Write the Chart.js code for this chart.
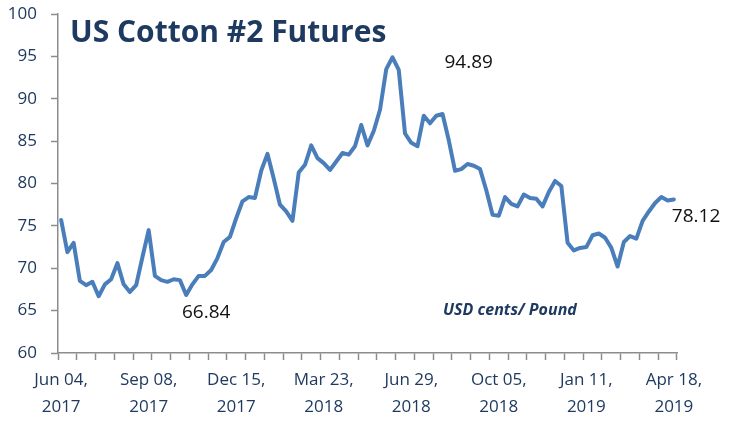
<!DOCTYPE html>
<html>
<head>
<meta charset="utf-8">
<title>US Cotton #2 Futures</title>
<script src="https://cdn.jsdelivr.net/npm/chart.js@4"></script>
<style>
  html, body { margin: 0; padding: 0; background: #fff; }
  #wrap { width: 734px; height: 423px; }
</style>
</head>
<body>
<div id="wrap"><canvas id="cotton" width="734" height="423"></canvas></div>
<script>
// === DATA ===
// weekly closes, USD cents / pound, Jun 2017 -> Apr 2019
const prices = [
  75.7, 71.9, 73.0, 68.5, 68.0, 68.4, 66.7, 68.1, 68.7, 70.6,
  68.1, 67.2, 68.0, 71.3, 74.5, 69.1, 68.6, 68.4, 68.7, 68.6,
  66.84, 68.1, 69.1, 69.1, 69.8, 71.2, 73.1, 73.7, 75.9, 77.9,
  78.4, 78.3, 81.5, 83.5, 80.6, 77.5, 76.7, 75.6, 81.3, 82.2,
  84.5, 83.0, 82.4, 81.6, 82.6, 83.6, 83.4, 84.4, 86.9, 84.5,
  86.2, 88.7, 93.5, 94.89, 93.4, 85.9, 84.8, 84.4, 88.0, 87.1,
  88.0, 88.2, 85.1, 81.5, 81.7, 82.3, 82.1, 81.7, 79.2, 76.3,
  76.2, 78.4, 77.6, 77.3, 78.7, 78.3, 78.2, 77.3, 79.0, 80.3,
  79.7, 73.0, 72.1, 72.4, 72.5, 73.9, 74.1, 73.6, 72.4, 70.2,
  73.1, 73.8, 73.5, 75.6, 76.7, 77.7, 78.4, 78.0, 78.12
];
const weeks = prices.map((_, i) => i);
const tickLabels = [
  ["Jun 04,", "2017"], ["Sep 08,", "2017"], ["Dec 15,", "2017"], ["Mar 23,", "2018"],
  ["Jun 29,", "2018"], ["Oct 05,", "2018"], ["Jan 11,", "2019"], ["Apr 18,", "2019"]
];
const yTicks = [60, 65, 70, 75, 80, 85, 90, 95, 100];
const labelEvery = 14;
const tickEvery = 3;
// points carrying a value label: high, low, last
const highIdx = 53;
const lowIdx = 20;
const lastIdx = prices.length - 1;

const NAVY = "#1f3a60";
const AXIS = "#8c8c8c";
const LINE = "#4a7ebb";

// === ANNOTATIONS (title, high / low / last values, unit) ===
const notesPlugin = {
  id: "notes",
  afterDatasetsDraw(chart) {
    const { ctx, chartArea, scales: { x, y } } = chart;
    ctx.save();

    ctx.fillStyle = NAVY;
    ctx.font = "bold 30px 'Open Sans'";
    ctx.textAlign = "left";
    ctx.textBaseline = "middle";
    ctx.fillText("US Cotton #2 Futures", chartArea.left + 12, chartArea.top + 19);

    ctx.font = "bold italic 16px 'Open Sans'";
    ctx.fillText("USD cents/ Pound", chartArea.left + 385, chartArea.top + 296);

    ctx.fillStyle = "#111";
    ctx.font = "19px 'Open Sans'";

    ctx.textAlign = "left";
    ctx.fillText(prices[highIdx].toFixed(2), x.getPixelForValue(highIdx) + 52, y.getPixelForValue(prices[highIdx]) + 5);

    ctx.textAlign = "center";
    ctx.fillText(prices[lowIdx].toFixed(2), x.getPixelForValue(lowIdx) + 20, y.getPixelForValue(prices[lowIdx]) + 18);

    ctx.textAlign = "left";
    ctx.fillText(prices[lastIdx].toFixed(2), x.getPixelForValue(lastIdx) - 2, y.getPixelForValue(prices[lastIdx]) + 17);

    ctx.restore();
  }
};

// === CHART ===
const chart = new Chart(document.getElementById("cotton"), {
  type: "line",
  data: {
    labels: weeks,
    datasets: [{
      data: prices,
      borderColor: LINE,
      borderWidth: 4,
      pointRadius: 0,
      tension: 0,
      borderJoinStyle: "round",
      borderCapStyle: "round"
    }]
  },
  options: {
    responsive: false,
    animation: false,
    layout: { padding: { top: 14, right: 57, left: 0, bottom: 0 } },
    plugins: {
      legend: { display: false },
      tooltip: { enabled: false }
    },
    scales: {
      x: {
        type: "category",
        offset: true,
        border: { color: AXIS, width: 1.5 },
        grid: {
          drawOnChartArea: false,
          drawTicks: true,
          tickLength: 7,
          offset: true,
          tickColor: c => (c.type !== "tick" || c.index % tickEvery === 0) ? AXIS : "rgba(0,0,0,0)",
          tickWidth: 1.5
        },
        ticks: {
          autoSkip: false,
          maxRotation: 0,
          padding: 6,
          color: NAVY,
          font: { family: "'Open Sans'", size: 17, lineHeight: 1.62 },
          callback: (v, i) => i % labelEvery === 0 ? tickLabels[i / labelEvery] : ""
        },
        afterFit: s => { s.height = 70; }
      },
      y: {
        min: 60,
        max: 100,
        afterBuildTicks: s => { s.ticks = yTicks.map(v => ({ value: v })); },
        border: { color: AXIS, width: 1.5 },
        grid: {
          drawOnChartArea: false,
          tickLength: 7,
          tickColor: AXIS,
          tickWidth: 1.5
        },
        ticks: {
          padding: 14,
          color: NAVY,
          font: { family: "'Open Sans'", size: 17 }
        },
        afterFit: s => { s.width = 58; s.paddingTop = 0; s.paddingBottom = 0; }
      }
    }
  },
  plugins: [notesPlugin]
});
</script>
</body>
</html>
